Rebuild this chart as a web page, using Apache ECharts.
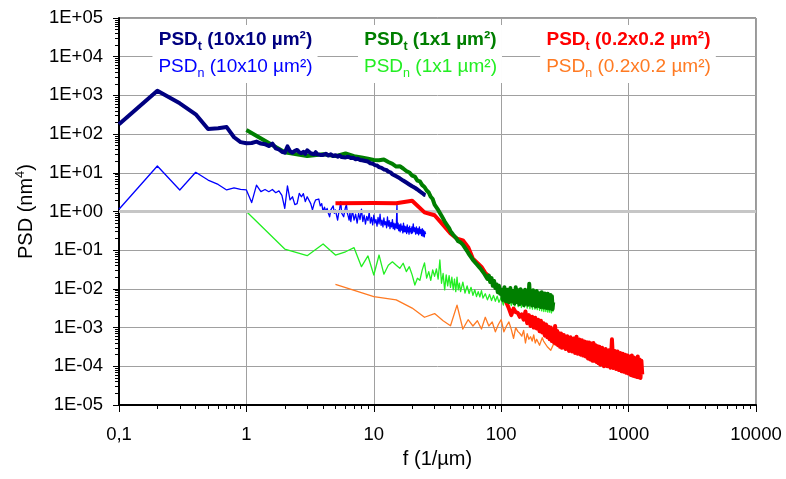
<!DOCTYPE html>
<html>
<head>
<meta charset="utf-8">
<title>PSD</title>
<script src="https://cdn.jsdelivr.net/npm/echarts@6/dist/echarts.min.js"></script>
<style>
  html, body { margin: 0; padding: 0; background: #fff; }
  #chart { width: 786px; height: 479px; }
</style>
</head>
<body>
<div id="chart"></div>
<script>
// Power spectral density, f in 1/µm, PSD in nm^4. Each series is [f, PSD] pairs.

// PSD_t, 10x10 µm² scan
const psdT10 = [
  [0.1,179],[0.2,1320],[0.3,625],[0.4,325],[0.5,136],[0.6,141],[0.7,152],[0.8,83],[0.9,62],[1.0,58],
  [1.1,59],[1.2,64],[1.3,57],[1.4,55],[1.5,49],[1.6,57],[1.7,43],[1.8,40],[1.9,35],[2.0,33],
  [2.1,48],[2.2,36],[2.3,33],[2.4,37],[2.5,39],[2.6,34],[2.7,32],[2.8,35],[2.9,31],[3.0,38],
  [3.1,36],[3.2,32],[3.3,31],[3.4,30],[3.5,34],[3.6,30],[3.7,31],[3.8,29],[3.9,31],[4.0,29],
  [4.2,31],[4.4,28],[4.6,30],[4.8,27],[5.0,28.5],[5.2,26],[5.4,28],[5.6,25.5],[5.8,27],[6.0,25],
  [6.3,26],[6.6,24],[6.9,24.5],[7.2,22.5],[7.5,23],[7.8,21.5],[8.1,21],[8.4,20.5],[8.7,19.2],[9.0,19.5],
  [9.4,17.6],[9.8,17.2],[10.2,15.8],[10.6,15.4],[11.0,14],[11.5,13.4],[12.0,12.2],[12.5,11.9],[13.0,10.7],[13.5,10.3],
  [14.0,9.2],[14.5,8.8],[15.0,8.1],[15.5,7.9],[16.0,7.2],[16.5,7.0],[17.0,6.3],[17.5,6.1],[18.0,5.6],[18.5,5.5],
  [19.0,5.0],[19.5,4.9],[20.0,4.5],[20.5,4.5],[21.0,4.1],[21.5,4.0],[22.0,3.7],[22.5,3.7],[23.0,3.3],[23.5,3.3],
  [24.0,3.0],[24.5,2.95],[25.0,2.7],[25.5,2.65]
];

// PSD_n, 10x10 µm² scan
const psdN10 = [
  [0.1,1.14],[0.2,15],[0.3,3.6],[0.4,10.3],[0.5,6.5],[0.6,5.0],[0.7,3.6],[0.8,4.1],[0.9,3.75],[1.0,3.6],
  [1.1,1.7],[1.2,4.8],[1.3,3.25],[1.4,3.7],[1.5,3.25],[1.6,3.7],[1.7,3.06],[1.8,3.4],[1.9,2.6],[2.0,1.2],
  [2.1,4.6],[2.2,2.0],[2.3,2.4],[2.4,1.5],[2.5,1.6],[2.6,2.95],[2.7,2.4],[2.8,2.9],[2.9,1.8],[3.0,2.4],
  [3.1,2.2],[3.2,1.6],[3.3,1.1],[3.4,1.6],[3.5,2.0],[3.6,1.8],[3.7,2.1],[3.8,1.4],[3.9,1.6],[4.0,0.99],
  [4.1,1.3],[4.2,1.0],[4.3,1.2],[4.4,0.9],[4.5,0.73],[4.6,1.1],[4.7,1.0],[4.8,1.4],[4.9,0.9],[5.0,1.1],
  [5.1,0.8],[5.2,0.6],[5.3,0.9],[5.4,1.2],[5.5,1.8],[5.6,0.9],[5.7,1.0],[5.8,0.73],[5.9,1.0],[6.0,1.3],
  [6.1,1.5],[6.2,0.9],[6.3,0.75],[6.4,0.6],[6.5,0.95],[6.6,0.55],[6.8,1.05],[7.0,0.6],[7.2,0.85],[7.4,0.5],
  [7.6,0.9],[7.8,0.62],[8.0,1.15],[8.2,0.55],[8.4,0.8],[8.6,0.47],[8.8,0.75],[9.0,0.58],[9.2,0.95],[9.4,0.5],
  [9.6,0.7],[9.8,0.45],[10.0,0.8],[10.2,0.5],[10.4,0.62],[10.6,0.42],[10.8,0.7],[11.0,0.48],[11.2,0.85],[11.4,0.44],
  [11.6,0.6],[11.8,0.4],[12.0,0.68],[12.2,0.45],[12.4,0.55],[12.6,0.38],[12.8,0.72],[13.0,0.42],[13.2,0.58],[13.4,0.36],
  [13.6,0.52],[13.8,0.4],[14.0,0.62],[14.2,0.36],[14.4,0.5],[14.6,0.34],[14.8,0.48],[15.0,0.38],[15.2,1.5],[15.3,0.36],
  [15.5,0.5],[15.7,0.32],[15.9,0.45],[16.1,0.3],[16.3,0.48],[16.5,0.33],[16.7,0.42],[16.9,0.28],[17.1,0.5],[17.3,0.3],
  [17.5,0.42],[17.7,0.3],[17.9,0.4],[18.1,0.27],[18.3,0.45],[18.5,0.3],[18.7,0.38],[18.9,0.26],[19.1,0.42],[19.3,0.3],
  [19.5,0.36],[19.7,0.27],[19.9,0.4],[20.1,0.28],[20.4,0.48],[20.7,0.3],[21.0,0.38],[21.3,0.26],[21.6,0.4],[21.9,0.27],
  [22.2,0.36],[22.5,0.25],[22.8,0.4],[23.1,0.27],[23.4,0.34],[23.7,0.24],[24.0,0.36],[24.3,0.23],[24.6,0.33],[24.9,0.22],
  [25.2,0.3],[25.5,0.26]
];

// PSD_t, 1x1 µm² scan
const psdT1 = [
  [1,128],[2,34],[3,27],[4,30],[5,27],[6,31.5],[7,27],[8,25],[9,23],[10,21.4],
  [11,21],[12,22],[13,19],[14,17],[15,14.5],[16,14.8],[17,12.9],[18,11.1],[19,10.2],[20,8.5],
  [21,8.0],[22,6.3],[23,6.0],[24,4.8],[25,4.3],[26,3.5],[27,3.1],[28,2.4],[29,2.1],[30,1.5],
  [31,1.35],[32,1.1],[33,0.98],[34,0.78],[35,0.7],[36,0.55],[37,0.5],[38,0.42],[39,0.37],[40,0.31],
  [41,0.29],[42,0.25],[43,0.24],[44,0.21],[45,0.2],[46,0.17],[47,0.165],[48,0.16],[49,0.15],[50,0.14],
  [52,0.115],[54,0.095],[56,0.078],[58,0.066],[60,0.056],[62,0.052],[64,0.044],[66,0.042],[68,0.035],[70,0.031],
  [72,0.029],[74,0.024],[76,0.025],[78,0.018],[80,0.022],[82,0.015],[84,0.019],[86,0.012],[88,0.016],[90,0.0105],
  [92,0.013],[94,0.0082],[96,0.012],[98,0.0075],[100,0.0095],[103,0.0052],[106,0.011],[109,0.0048],[112,0.0095],[115,0.0045],
  [118,0.0105],[121,0.0048],[124,0.0088],[127,0.0042],[130,0.011],[133,0.0046],[136,0.0092],[139,0.004],[142,0.0098],[145,0.0044],
  [148,0.0085],[151,0.0038],[154,0.0095],[157,0.0042],[160,0.0086],[163,0.0039],[166,0.0135],[169,0.0042],[172,0.0082],[175,0.0037],
  [178,0.0092],[181,0.004],[184,0.008],[187,0.0035],[190,0.0088],[193,0.0038],[196,0.0078],[199,0.0036],[202,0.0075],[205,0.0034],
  [208,0.0082],[211,0.0037],[214,0.0072],[217,0.0033],[220,0.0076],[223,0.0035],[226,0.007],[229,0.0032],[232,0.0075],[235,0.0034],
  [238,0.0068],[241,0.0031],[244,0.007],[247,0.0033],[250,0.0065],[253,0.003],[256,0.0045]
];

// PSD_n, 1x1 µm² scan
const psdN1 = [
  [1,1.0],[2,0.107],[3,0.072],[4,0.145],[5,0.075],[6,0.091],[7,0.116],[8,0.0375],[9,0.071],[10,0.0229],
  [11,0.075],[12,0.024],[13,0.041],[14,0.05],[15,0.041],[16,0.034],[17,0.046],[18,0.028],[19,0.0375],[20,0.023],
  [21,0.0126],[22,0.0188],[23,0.0167],[24,0.031],[25,0.047],[26,0.019],[27,0.028],[28,0.0167],[29,0.031],[30,0.021],
  [31,0.033],[32,0.018],[33,0.056],[34,0.014],[35,0.025],[36,0.0094],[37,0.023],[38,0.012],[39,0.022],[40,0.011],
  [41,0.02],[42,0.0095],[43,0.018],[44,0.0085],[45,0.02],[46,0.0095],[47,0.014],[48,0.0085],[50,0.015],[52,0.0078],
  [54,0.012],[56,0.0076],[58,0.011],[60,0.0068],[62,0.0095],[64,0.0063],[66,0.0085],[68,0.0062],[70,0.009],[72,0.0058],
  [75,0.0075],[78,0.0052],[81,0.0072],[84,0.005],[87,0.0068],[90,0.0048],[93,0.0065],[96,0.0045],[100,0.006],[104,0.0038],
  [108,0.0085],[112,0.004],[116,0.0075],[120,0.0037],[124,0.0078],[128,0.0036],[132,0.0068],[136,0.0035],[140,0.0072],[144,0.0033],
  [148,0.0064],[152,0.0034],[156,0.0066],[160,0.0032],[164,0.006],[168,0.0031],[172,0.0095],[176,0.003],[180,0.0058],[184,0.003],
  [188,0.0055],[192,0.0029],[196,0.0057],[200,0.0028],[204,0.0052],[208,0.0027],[212,0.0051],[216,0.0026],[220,0.0049],[224,0.0026],
  [228,0.0048],[232,0.0025],[236,0.0046],[240,0.0025],[244,0.0047],[248,0.0024],[252,0.0042],[256,0.0026]
];

// PSD_t, 0.2x0.2 µm² scan
const psdT02 = [
  [5,1.63],[10,1.66],[15,1.63],[20,1.9],[25,0.95],[30,0.8],[35,0.45],[40,0.27],[45,0.2],[50,0.18],
  [55,0.12],[60,0.06],[65,0.047],[70,0.037],[75,0.026],[80,0.021],[85,0.0145],[90,0.0121],[95,0.01],[100,0.0089],
  [105,0.0062],[110,0.0044],[115,0.0031],[120,0.0021],[125,0.0031],[130,0.0025],[135,0.0024],[140,0.0019],[145,0.0022],[150,0.0016],
  [155,0.0026],[160,0.0013],[165,0.0021],[170,0.0011],[175,0.0019],[180,0.001],[185,0.0018],[190,0.00095],[195,0.0016],[200,0.0008],
  [205,0.0015],[210,0.00075],[215,0.0013],[220,0.00062],[225,0.0012],[230,0.00056],[235,0.00105],[240,0.0005],[245,0.001],[250,0.00045],
  [255,0.00088],[260,0.00041],[265,0.0011],[270,0.00038],[275,0.00082],[280,0.00035],[285,0.00072],[290,0.00032],[295,0.0007],[300,0.0003],
  [310,0.00064],[320,0.00028],[330,0.0006],[340,0.00025],[350,0.00056],[360,0.00024],[370,0.00052],[380,0.00022],[390,0.00058],[400,0.00021],
  [410,0.00049],[420,0.0002],[430,0.00047],[440,0.00019],[450,0.00044],[460,0.00018],[470,0.00042],[480,0.00016],[490,0.00041],[500,0.00015],
  [510,0.00039],[520,0.00014],[530,0.0004],[540,0.00014],[550,0.00035],[560,0.00013],[570,0.00033],[580,0.00012],[590,0.00032],[600,0.00011],
  [620,0.0003],[640,0.0001],[660,0.00028],[680,0.0001],[700,0.00026],[720,0.000092],[740,0.0005],[760,0.00009],[780,0.00025],[800,0.000085],
  [820,0.00024],[840,0.00008],[860,0.00022],[880,0.000075],[900,0.00021],[920,0.000072],[940,0.0002],[960,0.000068],[980,0.00019],[1000,0.000065],
  [1020,0.00018],[1040,0.00006],[1060,0.00019],[1080,0.000057],[1100,0.00017],[1120,0.000055],[1140,0.00016],[1160,0.000053],[1180,0.00018],[1200,0.000052],
  [1220,0.00015],[1240,0.00005],[1260,0.00014],[1280,0.000062]
];

// PSD_n, 0.2x0.2 µm² scan
const psdN02 = [
  [5,0.0131],[10,0.0063],[15,0.0052],[20,0.0032],[25,0.00185],[30,0.0023],[35,0.0015],[40,0.00112],[45,0.0038],[50,0.00092],
  [55,0.0016],[60,0.0011],[65,0.0015],[70,0.00092],[75,0.00185],[80,0.0011],[85,0.0014],[90,0.00078],[95,0.0012],[100,0.0016],
  [105,0.00078],[110,0.0011],[115,0.0014],[120,0.0009],[125,0.00053],[130,0.001],[135,0.0008],[140,0.00071],[145,0.0006],[150,0.00085],
  [155,0.0004],[160,0.0007],[165,0.0005],[170,0.00058],[175,0.00045],[180,0.00065],[185,0.0004],[190,0.0005],[200,0.00035],[210,0.00055],
  [215,0.00045],[220,0.0004],[230,0.00032],[245,0.00026],[260,0.0004],[280,0.00033],[300,0.0003],[330,0.00027],[360,0.00028],[400,0.00022],
  [450,0.00024],[500,0.00018],[550,0.0002],[600,0.00016],[650,0.00015],[700,0.00014],[760,0.00013],[800,0.000115],[860,0.00012],[900,0.0001],
  [960,0.00011],[1000,0.000095],[1060,0.000098],[1100,0.00009],[1160,0.000095],[1200,0.000085],[1260,0.00009],[1280,0.00008]
];

// Axis tick labels, one per decade
const xTickLabels = ['0,1', '1', '10', '100', '1000', '10000'];           // 1e-1 .. 1e4
const yTickLabels = ['1E-05', '1E-04', '1E-03', '1E-02', '1E-01',
                     '1E+00', '1E+01', '1E+02', '1E+03', '1E+04', '1E+05']; // 1e-5 .. 1e5

const FONT = '"Liberation Sans", Arial, Helvetica, sans-serif';
const C = {
  t10: '#000080', n10: '#0000ff',
  t1: '#007f00',  n1: '#22ee22',
  t02: '#ff0000', n02: '#ff7a22'
};

function decade(v) { return Math.round(Math.log10(v)); }

function lineSeries(name, data, color, width, z) {
  return {
    name: name, type: 'line', data: data, z: z,
    showSymbol: false, symbol: 'none', smooth: false, sampling: null,
    lineStyle: { color: color, width: width, join: 'round' },
    emphasis: { disabled: true }, silent: true
  };
}

function legendBlock(cx, label, colT, colN) {
  const base = { fontFamily: FONT, fontSize: 19, lineHeight: 26.5 };
  const sub = { fontFamily: FONT, fontSize: 12.5, lineHeight: 15, verticalAlign: 'bottom' };
  return {
    type: 'text', x: cx, y: 25, z: 100, silent: true,
    style: {
      text: '{tb|PSD}{ts|t}{tb| (' + label + ' µm²)}\n{nb|PSD}{ns|n}{nb| (' + label + ' µm²)}',
      align: 'center', verticalAlign: 'top',
      backgroundColor: '#fff', padding: [2, 5, 3, 6],
      rich: {
        tb: Object.assign({}, base, { fill: colT, fontWeight: 'bold' }),
        ts: Object.assign({}, sub, { fill: colT, fontWeight: 'bold' }),
        nb: Object.assign({}, base, { fill: colN, fontWeight: 'normal' }),
        ns: Object.assign({}, sub, { fill: colN, fontWeight: 'normal' })
      }
    }
  };
}

const chart = echarts.init(document.getElementById('chart'), null, { renderer: 'canvas', width: 786, height: 479 });

const unitSeries = lineSeries('PSDt 10x10', psdT10, C.t10, 4, 8);
// the 1E+00 reference line is drawn lighter and wider than the other grid lines
unitSeries.markLine = {
  silent: true, symbol: ['none', 'none'], animation: false,
  label: { show: false },
  lineStyle: { color: '#c6c6c6', width: 3, type: 'solid' },
  data: [{ yAxis: 1 }]
};

chart.setOption({
  animation: false,
  backgroundColor: '#fff',
  grid: { left: 119, right: 30, top: 18, bottom: 74, show: true,
          borderColor: '#333', borderWidth: 1, backgroundColor: 'transparent' },
  xAxis: {
    type: 'log', logBase: 10, min: 0.1, max: 10000, interval: 1,
    name: 'f (1/µm)', nameLocation: 'middle', nameGap: 44,
    nameTextStyle: { fontFamily: FONT, fontSize: 20, color: '#000' },
    axisLine: { show: true, onZero: false, lineStyle: { color: '#000', width: 2 } },
    axisTick: { show: true, inside: false, length: 7, lineStyle: { color: '#000', width: 1 } },
    minorTick: { show: true, splitNumber: 9, length: 4, lineStyle: { color: '#000', width: 1 } },
    axisLabel: { margin: 20, fontFamily: FONT, fontSize: 18.5, color: '#000',
                 formatter: v => xTickLabels[decade(v) + 1] },
    splitLine: { show: true, lineStyle: { color: '#a0a0a0', width: 1 } },
    minorSplitLine: { show: false }
  },
  yAxis: {
    type: 'log', logBase: 10, min: 1e-5, max: 1e5, interval: 1,
    name: 'PSD (nm{sup|4})', nameLocation: 'middle', nameGap: 80,
    nameTextStyle: { fontFamily: FONT, fontSize: 20, color: '#000', lineHeight: 24,
                     rich: { sup: { fontFamily: FONT, fontSize: 13, color: '#000', lineHeight: 14, verticalAlign: 'top' } } },
    axisLine: { show: true, onZero: false, lineStyle: { color: '#000', width: 2 } },
    axisTick: { show: true, inside: false, length: 6, lineStyle: { color: '#000', width: 1 } },
    minorTick: { show: true, splitNumber: 9, length: 4, lineStyle: { color: '#000', width: 1 } },
    axisLabel: { margin: 16, fontFamily: FONT, fontSize: 18.5, color: '#000',
                 formatter: v => yTickLabels[decade(v) + 5] },
    splitLine: { show: true, lineStyle: { color: '#a0a0a0', width: 1 } },
    minorSplitLine: { show: false }
  },
  series: [
    lineSeries('PSDn 0.2x0.2', psdN02, C.n02, 1.3, 2),
    lineSeries('PSDn 1x1', psdN1, C.n1, 1.3, 3),
    lineSeries('PSDn 10x10', psdN10, C.n10, 1.3, 4),
    lineSeries('PSDt 0.2x0.2', psdT02, C.t02, 4, 5),
    lineSeries('PSDt 1x1', psdT1, C.t1, 4, 6),
    unitSeries
  ],
  graphic: [
    legendBlock(235, '10x10', C.t10, C.n10),
    legendBlock(430, '1x1', C.t1, C.n1),
    legendBlock(628, '0.2x0.2', C.t02, C.n02)
  ]
});
</script>
</body>
</html>
